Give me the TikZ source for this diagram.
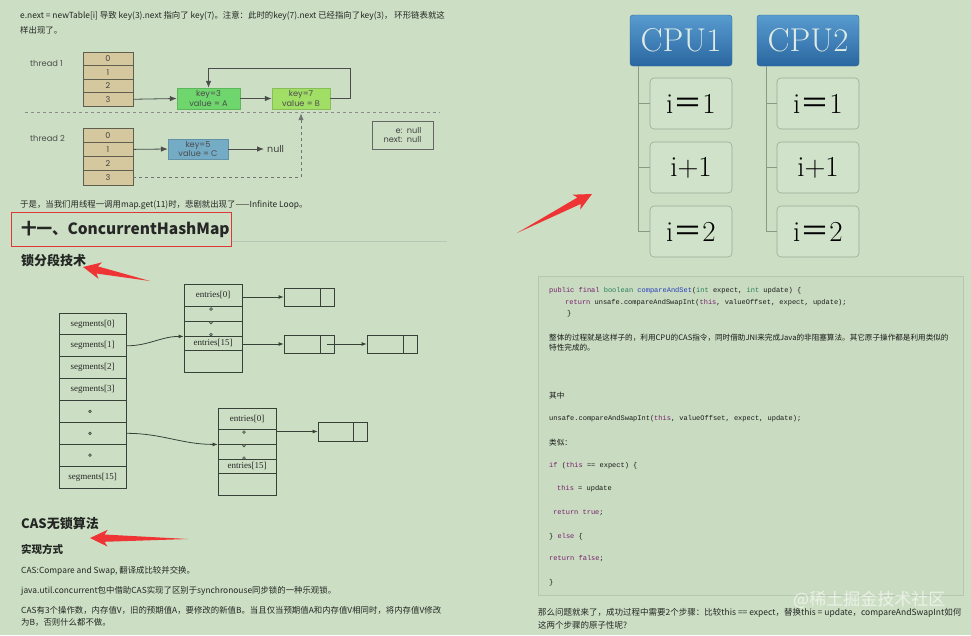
\documentclass[tikz,border=0pt]{standalone}
\usepackage{fontspec}
\newfontfamily\cjkfont{Noto Sans CJK SC}
\newfontfamily\roundfont{Poppins}
\newfontfamily\timesfont{Liberation Serif}
\newfontfamily\codefont{Liberation Mono}
\usetikzlibrary{arrows.meta,calc}
\definecolor{bg}{RGB}{204,223,196}
\definecolor{txt}{RGB}{35,38,35}
\definecolor{tan}{RGB}{214,200,158}
\definecolor{tline}{RGB}{95,95,80}
\definecolor{kgA}{RGB}{110,214,108}
\definecolor{kgB}{RGB}{160,222,102}
\definecolor{kbl}{RGB}{116,172,198}
\definecolor{dline}{RGB}{55,65,55}
\definecolor{redc}{RGB}{238,52,52}
\definecolor{hred}{RGB}{222,55,55}
\definecolor{cpuT}{RGB}{88,156,208}
\definecolor{cpuB}{RGB}{42,102,160}
\definecolor{cpuTxt}{RGB}{222,234,228}
\definecolor{cborder}{RGB}{150,172,150}
\definecolor{clink}{RGB}{135,155,135}
\definecolor{cbfill}{RGB}{201,220,193}
\definecolor{cbline}{RGB}{182,198,176}
\definecolor{kw}{RGB}{120,30,110}
\definecolor{ty}{RGB}{40,125,90}
\definecolor{fn}{RGB}{40,60,190}
\definecolor{sepc}{RGB}{185,200,180}
\newcommand\redarr[2]{%
  \fill[redc] (#1) -- ($(#1)!19.5pt!25.5:(#2)$) -- ($(#1)!15pt!14:(#2)$) -- (#2)
    -- ($(#1)!15pt!-14:(#2)$) -- ($(#1)!19.5pt!-25.5:(#2)$) -- cycle;}
\begin{document}
\begin{tikzpicture}[x=1pt,y=-1pt,
  every node/.style={inner sep=0pt},
  body/.style={anchor=west,text=txt,font=\cjkfont\fontsize{8.4}{10}\selectfont},
  hthree/.style={anchor=west,text=txt,font=\cjkfont\bfseries\fontsize{13}{15}\selectfont},
  lbl/.style={anchor=west,text=black!70,font=\roundfont\fontsize{8.3}{9}\selectfont},
  tcell/.style={draw=tline,fill=tan,line width=0.8,minimum width=50,minimum height=13.5,
    text=black!75,font=\roundfont\fontsize{8}{9}\selectfont},
  kbox/.style={minimum height=21,align=center,text=black!70,
    font=\roundfont\fontsize{8.2}{9.2}\selectfont},
  tarr/.style={draw=black!70,line width=0.8,-{Latex[length=7,width=5.5]}},
  scell/.style={draw=dline,line width=0.8,minimum width=67,minimum height=21.875,
    text=black!85,font=\timesfont\fontsize{9}{10}\selectfont},
  ecell/.style={draw=dline,line width=0.8,minimum width=58,
    text=black!85,font=\timesfont\fontsize{9}{10}\selectfont},
  bcell/.style={draw=dline,line width=0.8,minimum height=18},
  sarr/.style={draw=dline,line width=0.8,-{Latex[length=5,width=4]}},
  dotc/.style={draw=dline,fill=black!35,line width=0.5},
  cpu/.style={rounded corners=3,minimum width=102,minimum height=51,top color=cpuT,
    bottom color=cpuB,draw=cpuB,text=cpuTxt,font=\fontsize{33}{35}\selectfont},
  cbox/.style={rounded corners=4,draw=cborder,fill=bg!90!white,line width=0.6,
    minimum width=82,minimum height=51,text=black,font=\fontsize{29}{31}\selectfont},
  clinkst/.style={draw=clink,line width=0.8},
  code/.style={anchor=west,text=black!90,font=\codefont\fontsize{7}{8}\selectfont},
  cbody/.style={anchor=west,text=black!90,font=\cjkfont\fontsize{7.6}{9}\selectfont}]
\useasboundingbox (0,0) rectangle (971,635);
\fill[bg] (0,0) rectangle (971,635);

% ---------- top text
\node[body] (p1) at (20,16) {e.next = newTable[i] 导致 key(3).next 指向了 key(7)。注意：此时的key(7).next 已经指向了key(3)， 环形链表就这};
\node[body] (p2) at (20,30) {样出现了。};

% ---------- thread diagram
\node[lbl] (th1) at (30,63) {thread 1};
\node[lbl] (th2) at (30,138) {thread 2};
\foreach \i in {0,...,3}
  \node[tcell] (t1r\i) at (108,{58.75+13.5*\i}) {\i};
\foreach \i in {0,...,3}
  \node[tcell,minimum height=14.25] (t2r\i) at (108,{135.125+14.25*\i}) {\i};
\node[kbox,fill=kgA,draw=kgA!85!black,minimum width=63] (k3) at (208.5,98.5) {key=3\\value = A};
\node[kbox,fill=kgB,draw=kgB!85!black,minimum width=58] (k7) at (301,98.5) {key=7\\value = B};
\node[kbox,fill=kbl,draw=kbl!85!black,minimum width=60,minimum height=20] (k5) at (198,149) {key=5\\value = C};
\node[anchor=west,text=black!75,font=\roundfont\fontsize{9.5}{10}\selectfont] (null) at (267,149) {null};
\node[draw=black!60,line width=0.8,minimum width=61,minimum height=28,align=right,
  text=black!75,font=\roundfont\fontsize{8.2}{9.5}\selectfont] (en) at (402.5,135) {e:\ \ null\\next:\ \ null};
\coordinate (loopR) at (350,68);
\coordinate (sepL) at (25,112);
\coordinate (sepR) at (440,112);
\draw[tarr] (t1r3.east) -- (k3.west);
\draw[tarr] (k3.east) -- (k7.west);
\draw[tarr] (k7.east) -| (loopR) -| (k3.north);
\draw[draw=black!45,line width=0.8,dashed] (sepL) -- (sepR);
\draw[tarr] (t2r1.east) -- (k5.west);
\draw[tarr,shorten >=3] (k5.east) -- (null.west);
\draw[tarr,dashed,draw=black!55,shorten >=4] (t2r3.east) -| (k7.south);

% ---------- text + headings
\node[body] (p3) at (20,205) {于是，当我们用线程一调用map.get(11)时，悲剧就出现了——Infinite Loop。};
\coordinate (hsepL) at (231,241);
\coordinate (hsepR) at (447,241);
\draw[sepc,line width=0.6] (hsepL) -- (hsepR);
\node[draw=hred,line width=0.9,minimum width=220,minimum height=34,inner xsep=10,text width=200,
  align=left,text=black!85,font=\cjkfont\bfseries\fontsize{15.5}{17}\selectfont] (hd) at (121,229) {十一、ConcurrentHashMap};
\node[hthree] (lock) at (21,260) {锁分段技术};

% ---------- segments diagram
\node[scell] (s0) at (92.5,323.94) {segments[0]};
\node[scell] (s1) at (92.5,345.81) {segments[1]};
\node[scell] (s2) at (92.5,367.69) {segments[2]};
\node[scell] (s3) at (92.5,389.56) {segments[3]};
\node[scell] (s4) at (92.5,411.44) {};
\node[scell] (s5) at (92.5,433.31) {};
\node[scell] (s6) at (92.5,455.19) {};
\node[scell] (s7) at (92.5,477.06) {segments[15]};
\foreach \n in {s4,s5,s6}
  \draw[dotc] ([xshift=-2.5]\n.center) circle[radius=1.4pt];

\node[ecell,minimum height=22] (e1r0) at (213,295) {entries[0]};
\node[ecell,minimum height=15] (e1r1) at (213,313.5) {};
\node[ecell,minimum height=15] (e1r2) at (213,328.5) {};
\node[ecell,minimum height=14] (e1r3) at (213,343) {entries[15]};
\node[ecell,minimum height=22] (e1r4) at (213,361) {};
\foreach \y in {309,322.5,334.5}
  \draw[dotc] (211,\y) circle[radius=1.4pt];

\node[ecell,minimum height=21] (e2r0) at (247,418.5) {entries[0]};
\node[ecell,minimum height=15] (e2r1) at (247,436.5) {};
\node[ecell,minimum height=15] (e2r2) at (247,451.5) {};
\node[ecell,minimum height=14] (e2r3) at (247,466) {entries[15]};
\node[ecell,minimum height=22] (e2r4) at (247,484) {};
\foreach \y in {432,445.5,458}
  \draw[dotc] (244,\y) circle[radius=1.4pt];

\node[bcell,minimum width=36] (b1) at (302,297) {};
\node[bcell,minimum width=14] (b1x) at (327,297) {};
\node[bcell,minimum width=36] (b2) at (302,344) {};
\node[bcell,minimum width=14] (b2x) at (327,344) {};
\node[bcell,minimum width=36] (b3) at (385,344) {};
\node[bcell,minimum width=14] (b3x) at (410,344) {};
\node[bcell,minimum width=35,minimum height=19] (b4) at (335.5,431.5) {};
\node[bcell,minimum width=14,minimum height=19] (b4x) at (360,431.5) {};

\draw[sarr] (s1.east) to[out=0,in=180] (e1r2.south west);
\draw[sarr] (e1r0.east |- b1.west) -- (b1.west);
\draw[sarr] (e1r3.east |- b2.west) -- (b2.west);
\draw[sarr] (b2x.center) -- (b3.west);
\draw[sarr] (s5.east) to[out=0,in=180] (e2r1.south west);
\draw[sarr] (e2r1.east |- b4.west) -- (b4.west);

% ---------- CAS text
\node[hthree] (cas) at (21,524) {CAS无锁算法};
\node[anchor=west,text=txt,font=\cjkfont\bfseries\fontsize{10.5}{12}\selectfont] (impl) at (21,549) {实现方式};
\node[body] (l1) at (21,571) {CAS:Compare and Swap, 翻译成比较并交换。};
\node[body] (l2) at (21,591) {java.util.concurrent包中借助CAS实现了区别于synchronouse同步锁的一种乐观锁。};
\node[body] (l3) at (21,610) {CAS有3个操作数，内存值V，旧的预期值A，要修改的新值B。当且仅当预期值A和内存值V相同时，将内存值V修改};
\node[body] (l4) at (21,622) {为B，否则什么都不做。};

% ---------- red arrows
\coordinate (ra1tip) at (83,267);
\coordinate (ra1tail) at (150,281);
\coordinate (ra2tip) at (90,538);
\coordinate (ra2tail) at (188,539);
\coordinate (ra3tip) at (592,194);
\coordinate (ra3tail) at (517,233);
\redarr{ra1tip}{ra1tail}
\redarr{ra2tip}{ra2tail}
\redarr{ra3tip}{ra3tail}

% ---------- CPU diagram
\node[cpu] (cpu1) at (681,40.5) {CPU1};
\node[cpu] (cpu2) at (808,40.5) {CPU2};
\node[cbox] (c1a) at (691,103.5) {i{\cjkfont ＝}1};
\node[cbox] (c1b) at (691,167.5) {i+1};
\node[cbox] (c1c) at (691,231.5) {i{\cjkfont ＝}2};
\node[cbox] (c2a) at (818,103.5) {i{\cjkfont ＝}1};
\node[cbox] (c2b) at (818,167.5) {i+1};
\node[cbox] (c2c) at (818,231.5) {i{\cjkfont ＝}2};
\foreach \c in {c1a,c1b,c1c}
  \draw[clinkst] ([xshift=9]cpu1.south west) |- (\c.west);
\foreach \c in {c2a,c2b,c2c}
  \draw[clinkst] ([xshift=10]cpu2.south west) |- (\c.west);

% ---------- code box
\node[draw=cbline,fill=cbfill,line width=0.8,anchor=north west,minimum width=425,minimum height=319] (code) at (538,276) {};
\node[code] (cl1) at (549,291) {\textcolor{kw}{public final} \textcolor{ty}{boolean} \textcolor{fn}{compareAndSet}(\textcolor{ty}{int} expect, \textcolor{ty}{int} update) \{};
\node[code] (cl2) at (565,303) {\textcolor{kw}{return} unsafe.compareAndSwapInt(\textcolor{kw}{this}, valueOffset, expect, update);};
\node[code] (cl3) at (567,314) {\}};
\node[cbody] (cl4) at (549,338) {整体的过程就是这样子的，利用CPU的CAS指令，同时借助JNI来完成Java的非阻塞算法。其它原子操作都是利用类似的};
\node[cbody] (cl5) at (549,347.5) {特性完成的。};
\node[cbody] (cl6) at (549,396) {其中};
\node[code] (cl7) at (549,419) {unsafe.compareAndSwapInt(\textcolor{kw}{this}, valueOffset, expect, update);};
\node[cbody] (cl8) at (549,443) {类似：};
\node[code] (cl9) at (549,466) {\textcolor{kw}{if} (\textcolor{kw}{this} == expect) \{};
\node[code] (cl10) at (557,489) {\textcolor{kw}{this} = update};
\node[code] (cl11) at (553,513) {\textcolor{kw}{return} \textcolor{kw}{true};};
\node[code] (cl12) at (549,537) {\} \textcolor{kw}{else} \{};
\node[code] (cl13) at (549,559) {\textcolor{kw}{return} \textcolor{kw}{false};};
\node[code] (cl14) at (549,583) {\}};

% ---------- bottom-right text
\node[body,font=\cjkfont\fontsize{8.5}{10}\selectfont] (q1) at (538,613) {那么问题就来了，成功过程中需要2个步骤：比较this == expect，替换this = update，compareAndSwapInt如何};
\node[body,font=\cjkfont\fontsize{8.5}{10}\selectfont] (q2) at (538,625) {这两个步骤的原子性呢?};
\node[anchor=west,text=white,opacity=0.6,font=\cjkfont\fontsize{17}{19}\selectfont] (wm) at (793,600) {@稀土掘金技术社区};
\end{tikzpicture}
\end{document}
